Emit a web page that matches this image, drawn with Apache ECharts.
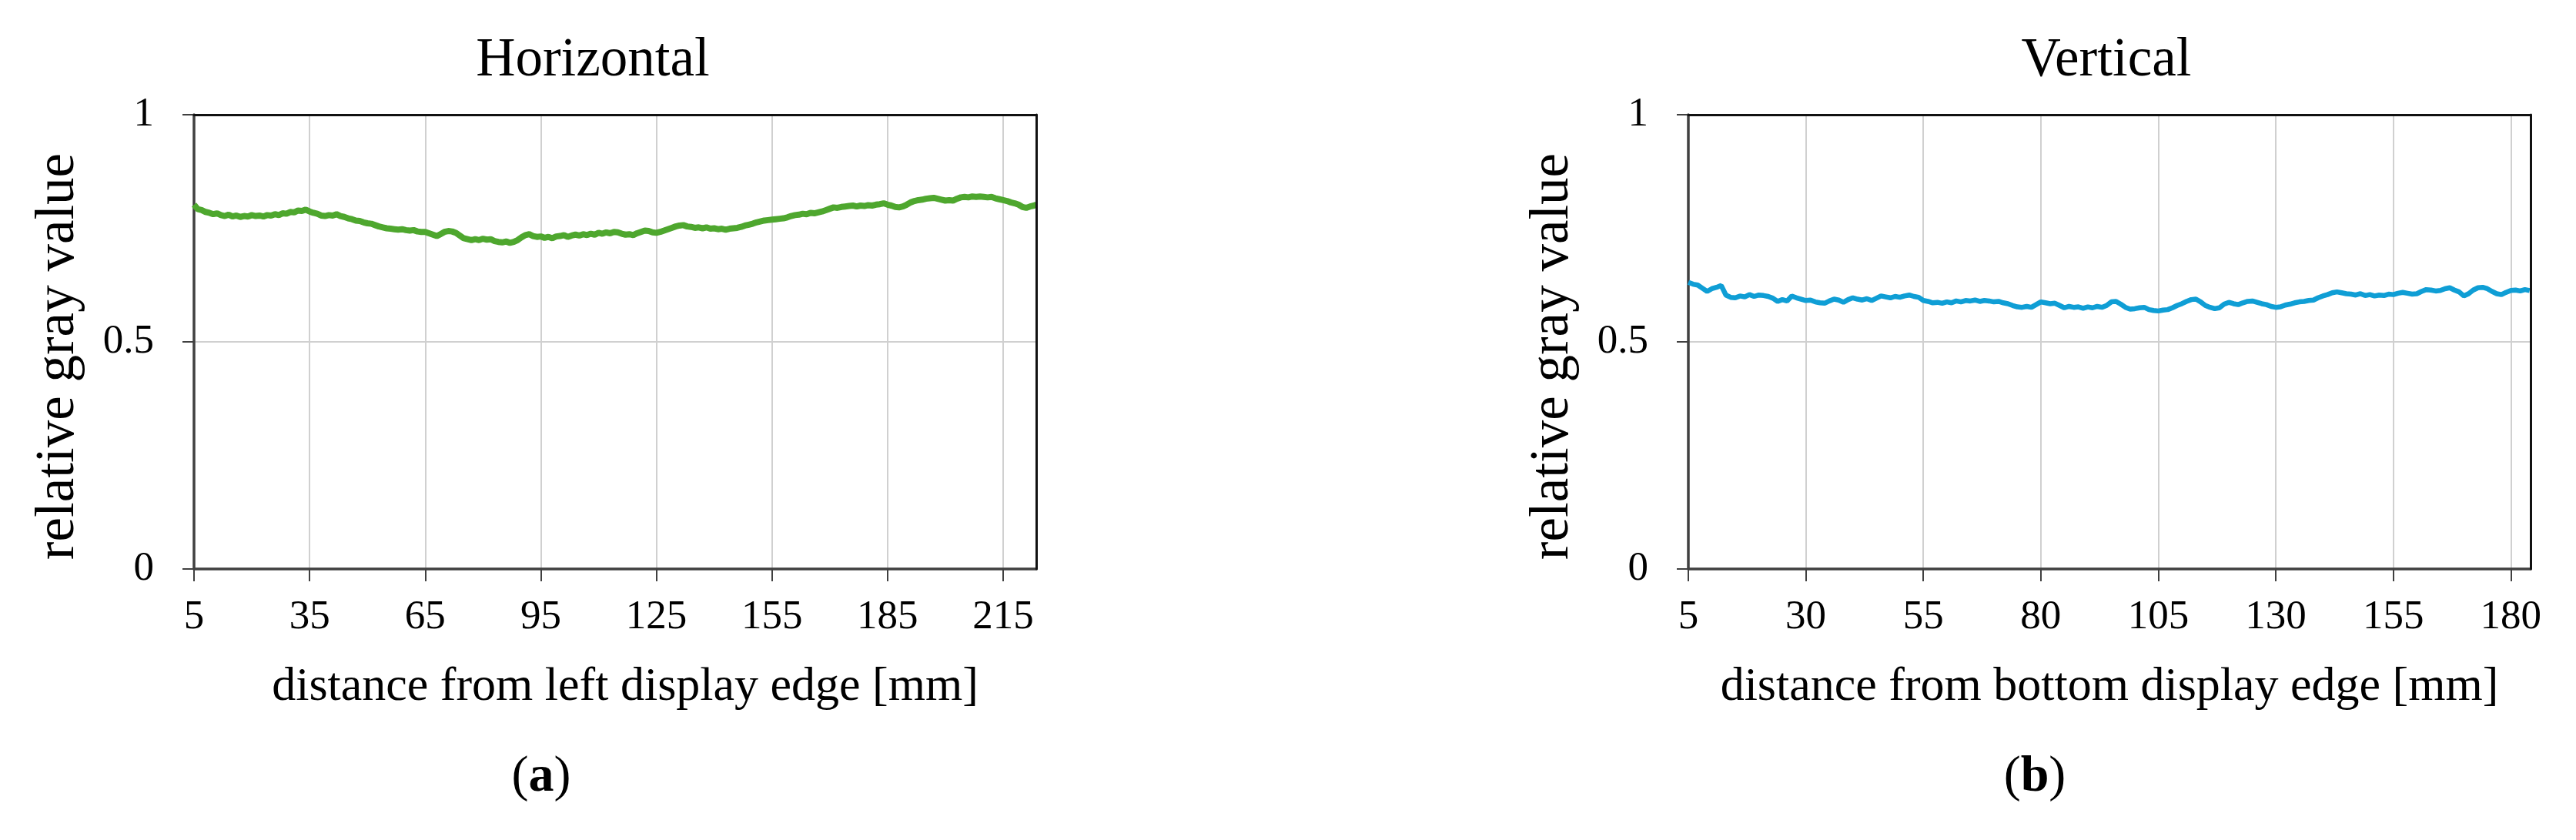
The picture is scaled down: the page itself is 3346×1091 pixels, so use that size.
<!DOCTYPE html>
<html>
<head>
<meta charset="utf-8">
<script src="https://cdn.jsdelivr.net/npm/echarts@6/dist/echarts.min.js"></script>
<style>
  html, body { margin: 0; padding: 0; background: #fff; }
  #chart { width: 3346px; height: 1091px; }
</style>
</head>
<body>
<div id="chart"></div>
<script>
// (a) horizontal profile: distance [mm] and relative gray value
const hDist = [
  5, 6, 7, 8, 9, 10, 11, 12, 13, 14, 15, 16, 17, 18, 19, 20, 21, 22, 23, 24,
  25, 26, 27, 28, 29, 30, 31, 32, 33, 34, 35, 36, 37, 38, 39, 40, 41, 42, 43, 44,
  45, 46, 47, 48, 49, 50, 51, 52, 53, 54, 55, 56, 57, 58, 59, 60, 61, 62, 63, 64,
  65, 66, 67, 68, 69, 70, 71, 72, 73, 74, 75, 76, 77, 78, 79, 80, 81, 82, 83, 84,
  85, 86, 87, 88, 89, 90, 91, 92, 93, 94, 95, 96, 97, 98, 99, 100, 101, 102, 103, 104,
  105, 106, 107, 108, 109, 110, 111, 112, 113, 114, 115, 116, 117, 118, 119, 120, 121, 122, 123, 124,
  125, 126, 127, 128, 129, 130, 131, 132, 133, 134, 135, 136, 137, 138, 139, 140, 141, 142, 143, 144,
  145, 146, 147, 148, 149, 150, 151, 152, 153, 154, 155, 156, 157, 158, 159, 160, 161, 162, 163, 164,
  165, 166, 167, 168, 169, 170, 171, 172, 173, 174, 175, 176, 177, 178, 179, 180, 181, 182, 183, 184,
  185, 186, 187, 188, 189, 190, 191, 192, 193, 194, 195, 196, 197, 198, 199, 200, 201, 202, 203, 204,
  205, 206, 207, 208, 209, 210, 211, 212, 213, 214, 215, 216, 217, 218, 219, 220, 221, 222, 223, 223.6
];
const hGray = [
  0.802, 0.792, 0.790, 0.786, 0.784, 0.781, 0.783, 0.779, 0.777, 0.780,
  0.776, 0.778, 0.775, 0.777, 0.776, 0.779, 0.777, 0.778, 0.776, 0.779,
  0.778, 0.781, 0.779, 0.783, 0.782, 0.786, 0.785, 0.789, 0.788, 0.791,
  0.787, 0.784, 0.782, 0.778, 0.777, 0.779, 0.778, 0.781, 0.777, 0.775,
  0.772, 0.770, 0.767, 0.766, 0.763, 0.761, 0.760, 0.757, 0.754, 0.752,
  0.750, 0.749, 0.748, 0.747, 0.748, 0.746, 0.745, 0.746, 0.743, 0.742,
  0.742, 0.739, 0.736, 0.733, 0.737, 0.742, 0.744, 0.743, 0.740, 0.734,
  0.728, 0.726, 0.724, 0.726, 0.724, 0.727, 0.725, 0.726, 0.722, 0.720,
  0.719, 0.721, 0.718, 0.720, 0.724, 0.730, 0.735, 0.737, 0.733, 0.731,
  0.732, 0.729, 0.731, 0.728, 0.732, 0.733, 0.735, 0.731, 0.734, 0.736,
  0.734, 0.737, 0.735, 0.738, 0.736, 0.740, 0.738, 0.741, 0.739, 0.742,
  0.741, 0.738, 0.736, 0.737, 0.735, 0.739, 0.742, 0.745, 0.744, 0.741,
  0.740, 0.742, 0.745, 0.748, 0.751, 0.754, 0.756, 0.757, 0.754, 0.753,
  0.751, 0.752, 0.750, 0.752, 0.749, 0.750, 0.748, 0.749, 0.747, 0.749,
  0.750, 0.751, 0.753, 0.756, 0.758, 0.760, 0.763, 0.765, 0.767, 0.768,
  0.769, 0.770, 0.771, 0.772, 0.774, 0.777, 0.779, 0.780, 0.782, 0.781,
  0.784, 0.783, 0.785, 0.787, 0.790, 0.793, 0.796, 0.795, 0.797, 0.798,
  0.799, 0.800, 0.798, 0.800, 0.799, 0.801, 0.800, 0.802, 0.803, 0.805,
  0.802, 0.800, 0.797, 0.796, 0.798, 0.802, 0.807, 0.810, 0.812, 0.813,
  0.815, 0.816, 0.817, 0.815, 0.813, 0.811, 0.812, 0.811, 0.815, 0.818,
  0.819, 0.818, 0.820, 0.819, 0.820, 0.819, 0.818, 0.819, 0.816, 0.814,
  0.812, 0.810, 0.807, 0.805, 0.802, 0.797, 0.795, 0.798, 0.800, 0.802
];

// (b) vertical profile
const vDist = [
  5, 6, 7, 8, 9, 10, 11, 12, 13, 14, 15, 16, 17, 18, 19, 20, 21, 22, 23, 24,
  25, 26, 27, 28, 29, 30, 31, 32, 33, 34, 35, 36, 37, 38, 39, 40, 41, 42, 43, 44,
  45, 46, 47, 48, 49, 50, 51, 52, 53, 54, 55, 56, 57, 58, 59, 60, 61, 62, 63, 64,
  65, 66, 67, 68, 69, 70, 71, 72, 73, 74, 75, 76, 77, 78, 79, 80, 81, 82, 83, 84,
  85, 86, 87, 88, 89, 90, 91, 92, 93, 94, 95, 96, 97, 98, 99, 100, 101, 102, 103, 104,
  105, 106, 107, 108, 109, 110, 111, 112, 113, 114, 115, 116, 117, 118, 119, 120, 121, 122, 123, 124,
  125, 126, 127, 128, 129, 130, 131, 132, 133, 134, 135, 136, 137, 138, 139, 140, 141, 142, 143, 144,
  145, 146, 147, 148, 149, 150, 151, 152, 153, 154, 155, 156, 157, 158, 159, 160, 161, 162, 163, 164,
  165, 166, 167, 168, 169, 170, 171, 172, 173, 174, 175, 176, 177, 178, 179, 180, 181, 182, 183, 184
];
const vGray = [
  0.631, 0.627, 0.625, 0.618, 0.611, 0.617, 0.620, 0.624, 0.603, 0.598,
  0.597, 0.601, 0.599, 0.604, 0.600, 0.603, 0.602, 0.600, 0.596, 0.589,
  0.593, 0.590, 0.601, 0.597, 0.594, 0.591, 0.592, 0.588, 0.586, 0.585,
  0.590, 0.594, 0.592, 0.587, 0.593, 0.597, 0.594, 0.592, 0.595, 0.591,
  0.596, 0.601, 0.599, 0.597, 0.600, 0.598, 0.601, 0.603, 0.600, 0.598,
  0.591, 0.589, 0.586, 0.587, 0.585, 0.588, 0.586, 0.590, 0.588, 0.591,
  0.590, 0.592, 0.589, 0.591, 0.590, 0.588, 0.589, 0.586, 0.584, 0.580,
  0.577, 0.576, 0.578, 0.576, 0.582, 0.588, 0.586, 0.584, 0.585, 0.580,
  0.575, 0.578, 0.576, 0.577, 0.574, 0.577, 0.575, 0.578, 0.576, 0.580,
  0.588, 0.589, 0.583, 0.576, 0.572, 0.573, 0.575, 0.576, 0.571, 0.569,
  0.568, 0.570, 0.571, 0.575, 0.580, 0.584, 0.589, 0.593, 0.594, 0.588,
  0.580, 0.576, 0.573, 0.575, 0.583, 0.587, 0.584, 0.582, 0.586, 0.589,
  0.590, 0.587, 0.584, 0.582, 0.578, 0.576, 0.577, 0.581, 0.583, 0.586,
  0.588, 0.589, 0.591, 0.592, 0.597, 0.601, 0.604, 0.608, 0.610, 0.608,
  0.606, 0.605, 0.603, 0.606, 0.602, 0.604, 0.601, 0.603, 0.602, 0.605,
  0.604, 0.607, 0.609, 0.607, 0.605, 0.606, 0.611, 0.615, 0.614, 0.612,
  0.613, 0.617, 0.619, 0.614, 0.610, 0.601, 0.606, 0.614, 0.619, 0.620,
  0.617, 0.611, 0.606, 0.604, 0.609, 0.613, 0.614, 0.612, 0.615, 0.613
];

const hTicks = [5, 35, 65, 95, 125, 155, 185, 215];
const vTicks = [5, 30, 55, 80, 105, 130, 155, 180];
const yTicks = [0, 0.5, 1];

const SERIF = '"Liberation Serif", "Times New Roman", serif';

function xAxisFor(gridIndex, max, ticks, name, shift) {
  return {
    gridIndex,
    type: 'value',
    min: 5,
    max,
    name,
    nameLocation: 'middle',
    nameGap: 123,
    nameTextStyle: { fontFamily: SERIF, fontSize: 62, color: '#000', padding: [0, 0, 0, shift] },
    axisLine: { show: true, onZero: false, lineStyle: { color: '#404040', width: 3.5 } },
    axisTick: { show: true, inside: false, length: 16, customValues: ticks, lineStyle: { color: '#404040', width: 2 } },
    axisLabel: { customValues: ticks, margin: 37, fontFamily: SERIF, fontSize: 53, color: '#000' },
    splitLine: { show: true, lineStyle: { color: '#d0d0d0', width: 2 } }
  };
}

function yAxisFor(gridIndex) {
  return {
    gridIndex,
    type: 'value',
    min: 0,
    max: 1,
    name: 'relative gray value',
    nameLocation: 'middle',
    nameGap: 140,
    // right padding nudges the rotated name a little downwards
    nameTextStyle: { fontFamily: SERIF, fontSize: 71, color: '#000', padding: [0, 38, 0, 0] },
    axisLine: { show: true, lineStyle: { color: '#404040', width: 3.5 } },
    axisTick: { show: true, inside: false, length: 15, customValues: yTicks, lineStyle: { color: '#404040', width: 2 } },
    axisLabel: { customValues: yTicks, margin: 52, fontFamily: SERIF, fontSize: 53, color: '#000' },
    splitLine: { show: true, lineStyle: { color: '#d0d0d0', width: 2 } }
  };
}

// plain black frame lines on the top and right of each plot
function frameX(gridIndex, max) {
  return {
    gridIndex, type: 'value', position: 'top', min: 5, max, z: 5,
    axisLine: { show: true, onZero: false, lineStyle: { color: '#111', width: 3 } },
    axisTick: { show: false }, axisLabel: { show: false }, splitLine: { show: false }
  };
}
function frameY(gridIndex) {
  return {
    gridIndex, type: 'value', position: 'right', min: 0, max: 1, z: 5,
    axisLine: { show: true, onZero: false, lineStyle: { color: '#111', width: 3 } },
    axisTick: { show: false }, axisLabel: { show: false }, splitLine: { show: false }
  };
}

const chart = echarts.init(document.getElementById('chart'), null, { renderer: 'canvas' });

chart.setOption({
  animation: false,
  backgroundColor: '#fff',
  grid: [
    { left: 252, right: 2000, top: 149, bottom: 352, containLabel: false },
    { left: 2193, right: 59, top: 149, bottom: 352, containLabel: false }
  ],
  xAxis: [
    xAxisFor(0, 223.6, hTicks, 'distance from left display edge [mm]', 26),
    xAxisFor(1, 184.2, vTicks, 'distance from bottom display edge [mm]', 0),
    frameX(0, 223.6),
    frameX(1, 184.2)
  ],
  yAxis: [yAxisFor(0), yAxisFor(1), frameY(0), frameY(1)],
  series: [
    {
      type: 'line',
      xAxisIndex: 0,
      yAxisIndex: 0,
      showSymbol: false,
      z: 3,
      data: hDist.map((d, i) => [d, hGray[i]]),
      lineStyle: { color: '#4EA72E', width: 8 }
    },
    {
      type: 'line',
      xAxisIndex: 1,
      yAxisIndex: 1,
      showSymbol: false,
      z: 3,
      data: vDist.map((d, i) => [d, vGray[i]]),
      lineStyle: { color: '#0F9ED5', width: 6.5 }
    }
  ],
  graphic: [
    { type: 'text', x: 770, y: 79, style: { text: 'Horizontal', font: '71px ' + SERIF, fill: '#000', align: 'center', verticalAlign: 'middle' } },
    { type: 'text', x: 2736, y: 79, style: { text: 'Vertical', font: '71px ' + SERIF, fill: '#000', align: 'center', verticalAlign: 'middle' } },
    {
      type: 'text', x: 703, y: 1010,
      style: {
        text: '{p|(}{b|a}{p|)}', align: 'center', verticalAlign: 'middle',
        rich: { p: { font: '66px ' + SERIF, fill: '#000' }, b: { font: 'bold 66px ' + SERIF, fill: '#000' } }
      }
    },
    {
      type: 'text', x: 2643, y: 1010,
      style: {
        text: '{p|(}{b|b}{p|)}', align: 'center', verticalAlign: 'middle',
        rich: { p: { font: '66px ' + SERIF, fill: '#000' }, b: { font: 'bold 66px ' + SERIF, fill: '#000' } }
      }
    }
  ]
});
</script>
</body>
</html>
